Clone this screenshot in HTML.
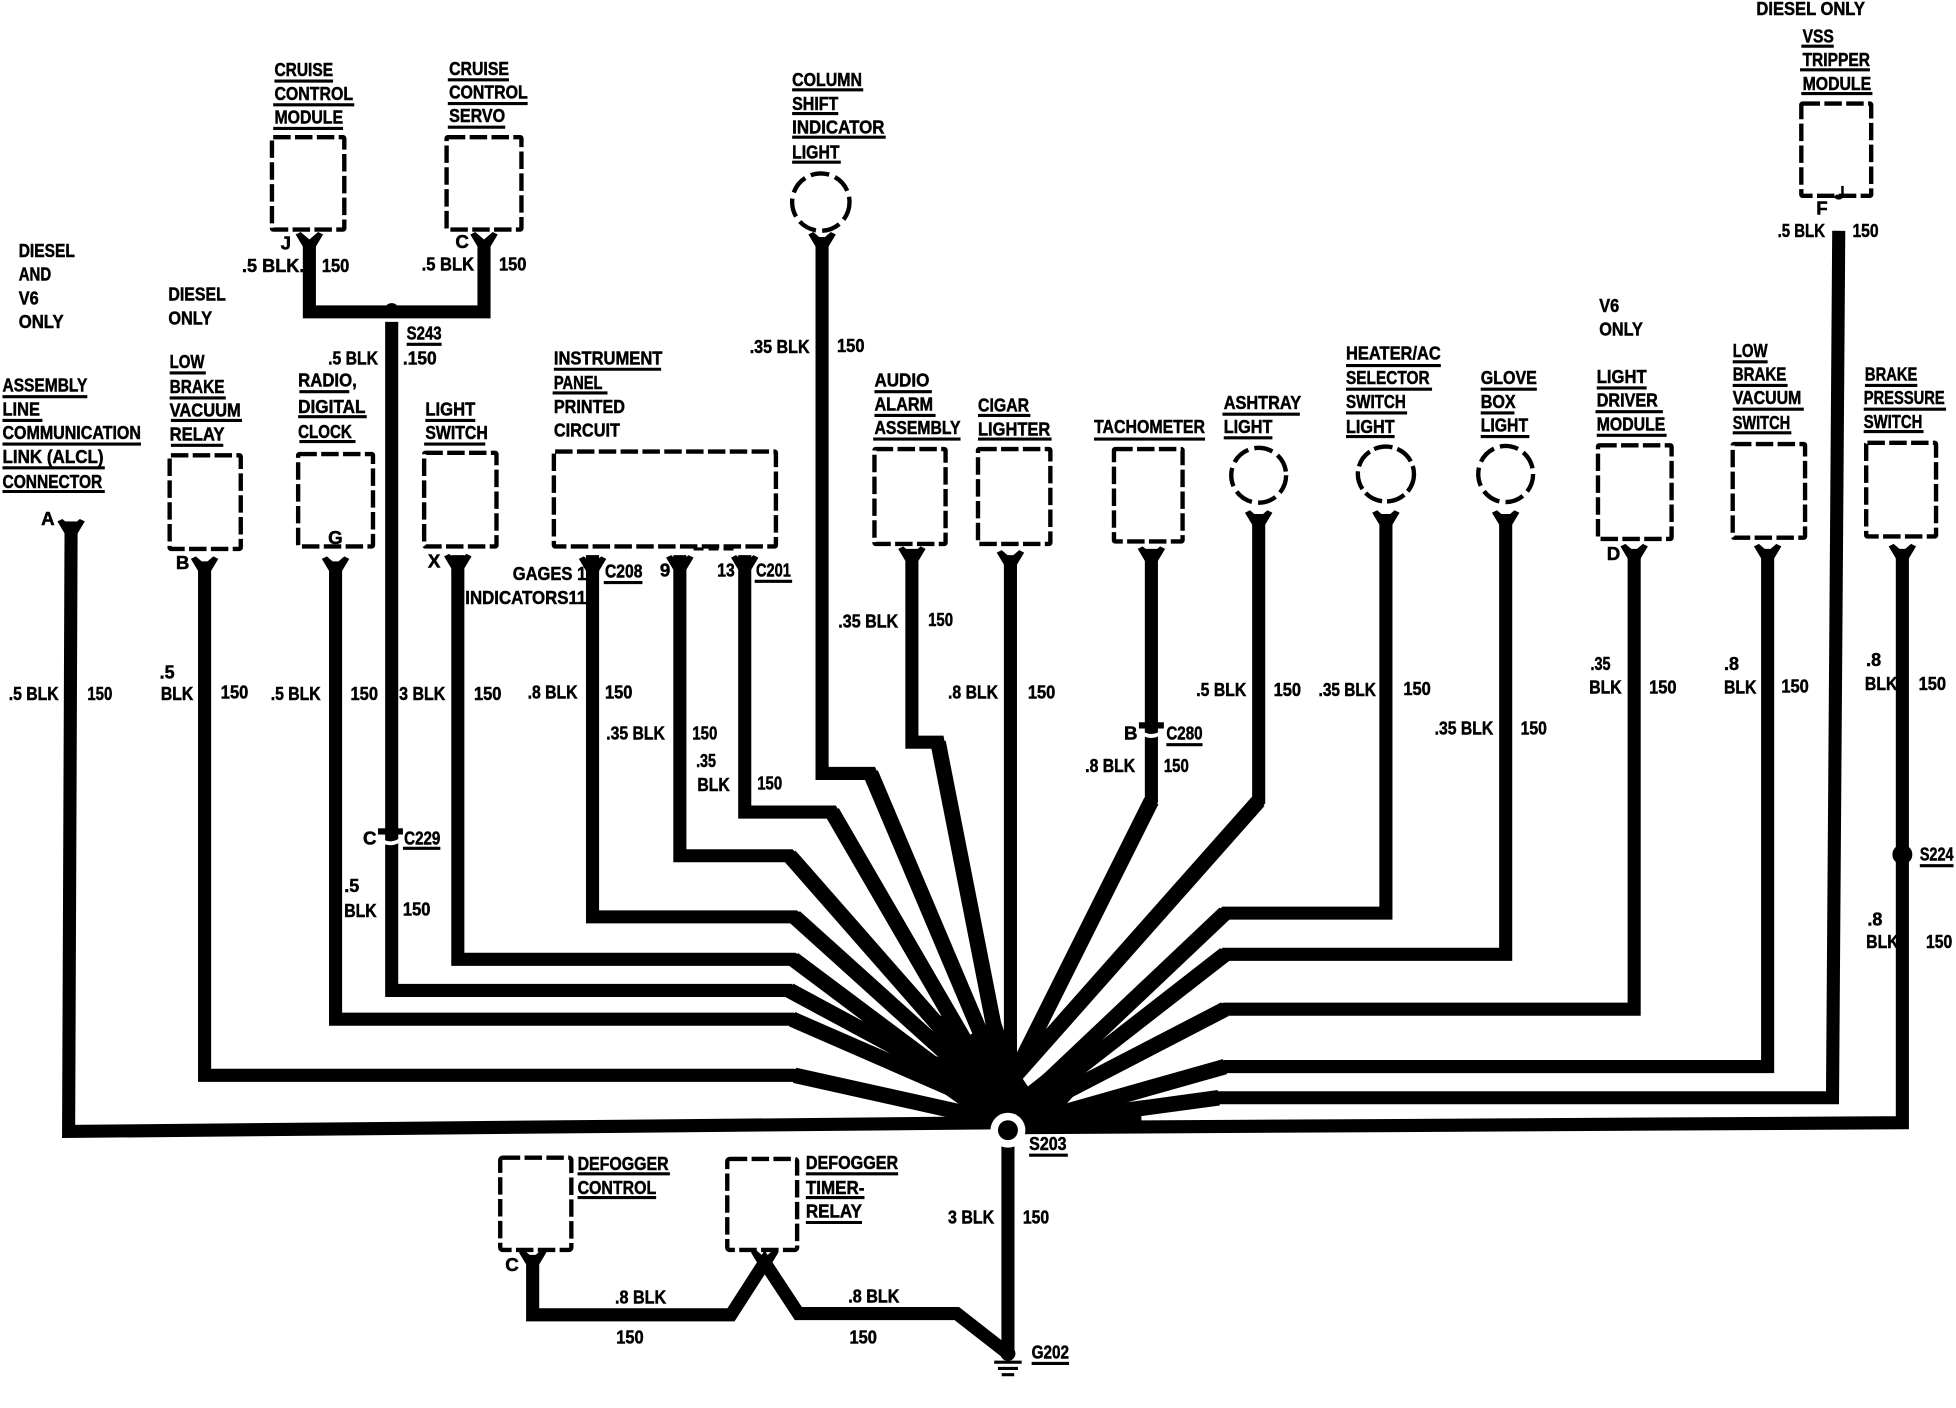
<!DOCTYPE html>
<html><head><meta charset="utf-8"><style>
html,body{margin:0;padding:0;background:#fff}
svg{display:block}
text{font-family:"Liberation Sans",sans-serif;font-weight:bold;font-size:15px;fill:#000;stroke:#000;stroke-width:.4}
.w{fill:none;stroke:#000;stroke-width:10.5;stroke-linejoin:miter}
.d{fill:none;stroke:#000;stroke-width:12.5;stroke-linecap:butt}
.b{fill:none;stroke:#000;stroke-width:3.5;stroke-dasharray:14 3.5}
.u{fill:none;stroke:#000;stroke-width:2.5}
</style></head><body>
<svg width="1956" height="1408" viewBox="0 0 1568 1128.7" xmlns="http://www.w3.org/2000/svg">
<defs><path id="y" d="M-11 0L-7 -2L0 4L7 -2L11 0L5 10L-5 10Z"/></defs>
<rect width="1568" height="1129" fill="#fff"/>

<!-- text that lies beneath wires -->
<text x="373" y="484" textLength="97" lengthAdjust="spacingAndGlyphs">INDICATORS11</text>
<text x="411" y="465" textLength="59" lengthAdjust="spacingAndGlyphs">GAGES 1</text>

<!-- boxes -->
<g class="b">
<rect x="218" y="110" width="58" height="74" rx="1"/>
<rect x="358" y="110" width="60" height="74" rx="1"/>
<rect x="136" y="365" width="57" height="75" rx="1"/>
<rect x="239" y="364" width="60" height="74" rx="1"/>
<rect x="340" y="363" width="58" height="75" rx="1"/>
<rect x="444" y="362" width="178" height="76" rx="1"/>
<rect x="701" y="360" width="57" height="76" rx="1"/>
<rect x="784" y="360" width="58" height="76" rx="1"/>
<rect x="893" y="360" width="55" height="74" rx="1"/>
<rect x="1281" y="357" width="59" height="75" rx="1"/>
<rect x="1389" y="356" width="58" height="75" rx="1"/>
<rect x="1496" y="355" width="56" height="75" rx="1"/>
<rect x="1444" y="83" width="56" height="74" rx="1"/>
<rect x="401" y="928" width="57" height="74" rx="2"/>
<rect x="583" y="929" width="56" height="73" rx="2"/>
<ellipse cx="658" cy="162" rx="23" ry="23" stroke-dasharray="15 5"/>
<ellipse cx="1009" cy="381" rx="22" ry="22" stroke-dasharray="15 5"/>
<ellipse cx="1111" cy="380" rx="22.5" ry="22" stroke-dasharray="15 4"/>
<ellipse cx="1207" cy="380" rx="22" ry="22.5" stroke-dasharray="15 5"/>
</g>

<!-- fan centre -->
<path d="M764 897L770 886L715 847L713 832L754 848L747 824L754 814L777 830L790 822L802 818L816 859L824 871L867 837L861 860L874 864L852 888L899 886L915 895L915 905L764 905Z"/>

<!-- wires -->
<g class="w">
<path d="M57 418L55 907L808 900"/>
<path d="M164 450V862H637L808 900"/>
<path d="M269 450V817H635L800 889"/>
<path d="M314 258V794H633L800 884"/>
<path d="M367 445V769H636L795 888"/>
<path d="M475 445V735H637L800 882"/>
<path d="M545 445V686H633L790 865"/>
<path d="M597 445V651H667L800 880"/>
<path d="M659 190V620H698L808 880"/>
<path d="M731 440V595H752L809 885"/>
<path d="M810 445V890"/>
<path d="M923 440V642L804 880"/>
<path d="M1009 412V642L807 870"/>
<path d="M1111 412V732H982L815 890"/>
<path d="M1207 412V765H982L815 895"/>
<path d="M1310 440V809H982L820 893"/>
<path d="M1417 440V855H982L830 898"/>
<path d="M1474 185L1469 880H977L830 900"/>
<path d="M1525 440V900L808 904"/>
<path d="M248 195V250H388V195"/>
<path d="M427 1006V1054H586L613 1012L640 1053H767L808 1085"/>
<path d="M808 918V1085"/>
</g>
<!-- heavier diagonal legs approaching the fan -->
<g class="d">
<path d="M637 862L808 900"/>
<path d="M635 817L800 889"/>
<path d="M633 794L800 884"/>
<path d="M636 769L795 888"/>
<path d="M637 735L800 882"/>
<path d="M633 686L790 865"/>
<path d="M667 651L800 880"/>
<path d="M698 620L808 880"/>
<path d="M752 595L809 885"/>
<path d="M923 642L804 880"/>
<path d="M1009 642L807 870"/>
<path d="M982 732L815 890"/>
<path d="M982 765L815 895"/>
<path d="M982 809L820 893"/>
<path d="M982 855L830 898"/>
<path d="M977 880L830 900"/>
</g>

<!-- connector caps -->
<use href="#y" x="57" y="418"/><use href="#y" x="164" y="448"/><use href="#y" x="269" y="448"/>
<use href="#y" x="367" y="446"/><use href="#y" x="475" y="448"/><use href="#y" x="545" y="447"/>
<use href="#y" x="597" y="447"/><use href="#y" x="248" y="188"/><use href="#y" x="388" y="188"/>
<use href="#y" x="659" y="188"/><use href="#y" x="731" y="440"/><use href="#y" x="810" y="443"/>
<use href="#y" x="923" y="440"/><use href="#y" x="1009" y="411"/><use href="#y" x="1111" y="411"/>
<use href="#y" x="1207" y="411"/><use href="#y" x="1310" y="438"/><use href="#y" x="1417" y="438"/>
<use href="#y" x="1525" y="438"/><use href="#y" x="427" y="1004"/><use href="#y" x="613" y="1004"/>
<path d="M1470 158q4 4 8 0v-9h-2v7h-4z"/>
<path d="M556 440h34" class="u" stroke-dasharray="8 4"/>

<!-- junctions -->
<circle cx="314" cy="249" r="6"/>
<ellipse cx="1525" cy="685" rx="8" ry="8"/>
<circle cx="808" cy="906" r="14" fill="#fff"/>
<circle cx="808" cy="906" r="8"/>
<path d="M302 671Q313 681 324 671" fill="none" stroke="#fff" stroke-width="3"/>
<path d="M912 585Q923 595 934 585" fill="none" stroke="#fff" stroke-width="3"/>
<rect x="303" y="664" width="20" height="5"/>
<rect x="913" y="579" width="20" height="5"/>

<!-- ground -->
<circle cx="808" cy="1085" r="6"/>
<path d="M797 1092h22M800 1097h16M803 1102h10" stroke="#000" stroke-width="2.5"/>

<!-- underlines -->
<path class="u" d="M220 65H267M219 84H284M219 103H275M359 64H408M359 83H423M359 102H405M635 72H692M635 91H672M635 110H710M635 130H674M1444 37H1470M1443 56H1499M1444 75H1501M2 318H70M2 337H34M2 356H113M2 375H84M2 394H84M136 299H165M136 319H181M137 337H194M137 357H179M240 314H280M239 334H294M240 354H285M341 337H381M340 356H389M444 296H530M443 315H487M701 314H747M701 333H750M700 352H770M784 333H826M784 352H843M877 352H966M980 332H1042M981 351H1020M1079 293H1155M1079 312H1148M1079 331H1128M1079 350H1118M1187 312H1232M1187 331H1214M1187 350H1226M1280 311H1320M1279 330H1333M1280 349H1336M1389 290H1417M1389 309H1433M1389 328H1446M1389 347H1436M1495 309H1537M1494 328H1560M1494 346H1542M326 276H354M484 467H515M605 466H635M935 597H964M1539 694H1566M323 680H353M825 926H856M463 941H537M463 960H526M646 941H720M646 960H693M646 980H691M827 1093H857"/>

<!-- labels -->
<g>
<text x="220" y="61" textLength="47" lengthAdjust="spacingAndGlyphs">CRUISE</text>
<text x="220" y="80" textLength="63" lengthAdjust="spacingAndGlyphs">CONTROL</text>
<text x="220" y="99" textLength="55" lengthAdjust="spacingAndGlyphs">MODULE</text>
<text x="360" y="60" textLength="48" lengthAdjust="spacingAndGlyphs">CRUISE</text>
<text x="360" y="79" textLength="63" lengthAdjust="spacingAndGlyphs">CONTROL</text>
<text x="360" y="98" textLength="45" lengthAdjust="spacingAndGlyphs">SERVO</text>
<text x="635" y="69" textLength="56" lengthAdjust="spacingAndGlyphs">COLUMN</text>
<text x="635" y="88" textLength="37" lengthAdjust="spacingAndGlyphs">SHIFT</text>
<text x="635" y="107" textLength="74" lengthAdjust="spacingAndGlyphs">INDICATOR</text>
<text x="635" y="127" textLength="38" lengthAdjust="spacingAndGlyphs">LIGHT</text>
<text x="1408" y="12" textLength="87" lengthAdjust="spacingAndGlyphs">DIESEL ONLY</text>
<text x="1445" y="34" textLength="25" lengthAdjust="spacingAndGlyphs">VSS</text>
<text x="1445" y="53" textLength="54" lengthAdjust="spacingAndGlyphs">TRIPPER</text>
<text x="1445" y="72" textLength="55" lengthAdjust="spacingAndGlyphs">MODULE</text>
<text x="15" y="206" textLength="45" lengthAdjust="spacingAndGlyphs">DIESEL</text>
<text x="15" y="225" textLength="26" lengthAdjust="spacingAndGlyphs">AND</text>
<text x="15" y="244" textLength="16" lengthAdjust="spacingAndGlyphs">V6</text>
<text x="15" y="263" textLength="36" lengthAdjust="spacingAndGlyphs">ONLY</text>
<text x="135" y="241" textLength="46" lengthAdjust="spacingAndGlyphs">DIESEL</text>
<text x="135" y="260" textLength="35" lengthAdjust="spacingAndGlyphs">ONLY</text>
<text x="2" y="314" textLength="68" lengthAdjust="spacingAndGlyphs">ASSEMBLY</text>
<text x="2" y="333" textLength="30" lengthAdjust="spacingAndGlyphs">LINE</text>
<text x="2" y="352" textLength="111" lengthAdjust="spacingAndGlyphs">COMMUNICATION</text>
<text x="2" y="371" textLength="81" lengthAdjust="spacingAndGlyphs">LINK (ALCL)</text>
<text x="2" y="391" textLength="80" lengthAdjust="spacingAndGlyphs">CONNECTOR</text>
<text x="136" y="295" textLength="28" lengthAdjust="spacingAndGlyphs">LOW</text>
<text x="136" y="315" textLength="44" lengthAdjust="spacingAndGlyphs">BRAKE</text>
<text x="136" y="334" textLength="57" lengthAdjust="spacingAndGlyphs">VACUUM</text>
<text x="136" y="353" textLength="44" lengthAdjust="spacingAndGlyphs">RELAY</text>
<text x="239" y="310" textLength="47" lengthAdjust="spacingAndGlyphs">RADIO,</text>
<text x="239" y="331" textLength="54" lengthAdjust="spacingAndGlyphs">DIGITAL</text>
<text x="239" y="351" textLength="43" lengthAdjust="spacingAndGlyphs">CLOCK</text>
<text x="341" y="333" textLength="40" lengthAdjust="spacingAndGlyphs">LIGHT</text>
<text x="341" y="352" textLength="50" lengthAdjust="spacingAndGlyphs">SWITCH</text>
<text x="444" y="292" textLength="87" lengthAdjust="spacingAndGlyphs">INSTRUMENT</text>
<text x="444" y="312" textLength="39" lengthAdjust="spacingAndGlyphs">PANEL</text>
<text x="444" y="331" textLength="57" lengthAdjust="spacingAndGlyphs">PRINTED</text>
<text x="444" y="350" textLength="53" lengthAdjust="spacingAndGlyphs">CIRCUIT</text>
<text x="701" y="310" textLength="44" lengthAdjust="spacingAndGlyphs">AUDIO</text>
<text x="701" y="329" textLength="47" lengthAdjust="spacingAndGlyphs">ALARM</text>
<text x="701" y="348" textLength="69" lengthAdjust="spacingAndGlyphs">ASSEMBLY</text>
<text x="784" y="330" textLength="41" lengthAdjust="spacingAndGlyphs">CIGAR</text>
<text x="784" y="349" textLength="58" lengthAdjust="spacingAndGlyphs">LIGHTER</text>
<text x="877" y="347" textLength="89" lengthAdjust="spacingAndGlyphs">TACHOMETER</text>
<text x="981" y="328" textLength="62" lengthAdjust="spacingAndGlyphs">ASHTRAY</text>
<text x="981" y="347" textLength="39" lengthAdjust="spacingAndGlyphs">LIGHT</text>
<text x="1079" y="288" textLength="76" lengthAdjust="spacingAndGlyphs">HEATER/AC</text>
<text x="1079" y="308" textLength="67" lengthAdjust="spacingAndGlyphs">SELECTOR</text>
<text x="1079" y="327" textLength="48" lengthAdjust="spacingAndGlyphs">SWITCH</text>
<text x="1079" y="347" textLength="39" lengthAdjust="spacingAndGlyphs">LIGHT</text>
<text x="1187" y="308" textLength="45" lengthAdjust="spacingAndGlyphs">GLOVE</text>
<text x="1187" y="327" textLength="28" lengthAdjust="spacingAndGlyphs">BOX</text>
<text x="1187" y="346" textLength="38" lengthAdjust="spacingAndGlyphs">LIGHT</text>
<text x="1282" y="250" textLength="16" lengthAdjust="spacingAndGlyphs">V6</text>
<text x="1282" y="269" textLength="35" lengthAdjust="spacingAndGlyphs">ONLY</text>
<text x="1280" y="307" textLength="40" lengthAdjust="spacingAndGlyphs">LIGHT</text>
<text x="1280" y="326" textLength="49" lengthAdjust="spacingAndGlyphs">DRIVER</text>
<text x="1280" y="345" textLength="55" lengthAdjust="spacingAndGlyphs">MODULE</text>
<text x="1389" y="286" textLength="28" lengthAdjust="spacingAndGlyphs">LOW</text>
<text x="1389" y="305" textLength="43" lengthAdjust="spacingAndGlyphs">BRAKE</text>
<text x="1389" y="324" textLength="55" lengthAdjust="spacingAndGlyphs">VACUUM</text>
<text x="1389" y="344" textLength="46" lengthAdjust="spacingAndGlyphs">SWITCH</text>
<text x="1495" y="305" textLength="42" lengthAdjust="spacingAndGlyphs">BRAKE</text>
<text x="1494" y="324" textLength="65" lengthAdjust="spacingAndGlyphs">PRESSURE</text>
<text x="1494" y="343" textLength="47" lengthAdjust="spacingAndGlyphs">SWITCH</text>

<text x="225" y="200">J</text><text x="365" y="199">C</text>
<text x="194" y="218" textLength="50" lengthAdjust="spacingAndGlyphs">.5 BLK.</text>
<text x="258" y="218" textLength="22" lengthAdjust="spacingAndGlyphs">150</text>
<text x="338" y="217" textLength="42" lengthAdjust="spacingAndGlyphs">.5 BLK</text>
<text x="400" y="217" textLength="22" lengthAdjust="spacingAndGlyphs">150</text>
<text x="326" y="272" textLength="28" lengthAdjust="spacingAndGlyphs">S243</text>
<text x="263" y="292" textLength="40" lengthAdjust="spacingAndGlyphs">.5 BLK</text>
<text x="323" y="292" textLength="27" lengthAdjust="spacingAndGlyphs">.150</text>
<text x="601" y="283" textLength="48" lengthAdjust="spacingAndGlyphs">.35 BLK</text>
<text x="671" y="282" textLength="22" lengthAdjust="spacingAndGlyphs">150</text>
<text x="33" y="421">A</text><text x="141" y="456">B</text><text x="263" y="436">G</text><text x="343" y="455">X</text>
<text x="485" y="463" textLength="30" lengthAdjust="spacingAndGlyphs">C208</text>
<text x="529" y="462">9</text>
<text x="575" y="462" textLength="14" lengthAdjust="spacingAndGlyphs">13</text>
<text x="606" y="462" textLength="28" lengthAdjust="spacingAndGlyphs">C201</text>
<text x="672" y="503" textLength="48" lengthAdjust="spacingAndGlyphs">.35 BLK</text>
<text x="744" y="502" textLength="20" lengthAdjust="spacingAndGlyphs">150</text>
<text x="7" y="561" textLength="40" lengthAdjust="spacingAndGlyphs">.5 BLK</text>
<text x="70" y="561" textLength="20" lengthAdjust="spacingAndGlyphs">150</text>
<text x="128" y="544" textLength="12" lengthAdjust="spacingAndGlyphs">.5</text>
<text x="129" y="561" textLength="26" lengthAdjust="spacingAndGlyphs">BLK</text>
<text x="177" y="560" textLength="22" lengthAdjust="spacingAndGlyphs">150</text>
<text x="217" y="561" textLength="40" lengthAdjust="spacingAndGlyphs">.5 BLK</text>
<text x="281" y="561" textLength="22" lengthAdjust="spacingAndGlyphs">150</text>
<text x="320" y="561" textLength="37" lengthAdjust="spacingAndGlyphs">3 BLK</text>
<text x="380" y="561" textLength="22" lengthAdjust="spacingAndGlyphs">150</text>
<text x="423" y="560" textLength="40" lengthAdjust="spacingAndGlyphs">.8 BLK</text>
<text x="485" y="560" textLength="22" lengthAdjust="spacingAndGlyphs">150</text>
<text x="486" y="593" textLength="47" lengthAdjust="spacingAndGlyphs">.35 BLK</text>
<text x="555" y="593" textLength="20" lengthAdjust="spacingAndGlyphs">150</text>
<text x="558" y="615" textLength="16" lengthAdjust="spacingAndGlyphs">.35</text>
<text x="559" y="634" textLength="26" lengthAdjust="spacingAndGlyphs">BLK</text>
<text x="607" y="633" textLength="20" lengthAdjust="spacingAndGlyphs">150</text>
<text x="760" y="560" textLength="40" lengthAdjust="spacingAndGlyphs">.8 BLK</text>
<text x="824" y="560" textLength="22" lengthAdjust="spacingAndGlyphs">150</text>
<text x="901" y="593">B</text>
<text x="935" y="593" textLength="29" lengthAdjust="spacingAndGlyphs">C280</text>
<text x="870" y="619" textLength="40" lengthAdjust="spacingAndGlyphs">.8 BLK</text>
<text x="933" y="619" textLength="20" lengthAdjust="spacingAndGlyphs">150</text>
<text x="959" y="558" textLength="40" lengthAdjust="spacingAndGlyphs">.5 BLK</text>
<text x="1021" y="558" textLength="22" lengthAdjust="spacingAndGlyphs">150</text>
<text x="1057" y="558" textLength="46" lengthAdjust="spacingAndGlyphs">.35 BLK</text>
<text x="1125" y="557" textLength="22" lengthAdjust="spacingAndGlyphs">150</text>
<text x="1150" y="589" textLength="47" lengthAdjust="spacingAndGlyphs">.35 BLK</text>
<text x="1219" y="589" textLength="21" lengthAdjust="spacingAndGlyphs">150</text>
<text x="1275" y="537" textLength="16" lengthAdjust="spacingAndGlyphs">.35</text>
<text x="1274" y="556" textLength="26" lengthAdjust="spacingAndGlyphs">BLK</text>
<text x="1322" y="556" textLength="22" lengthAdjust="spacingAndGlyphs">150</text>
<text x="1382" y="537" textLength="12" lengthAdjust="spacingAndGlyphs">.8</text>
<text x="1382" y="556" textLength="26" lengthAdjust="spacingAndGlyphs">BLK</text>
<text x="1428" y="555" textLength="22" lengthAdjust="spacingAndGlyphs">150</text>
<text x="1496" y="534" textLength="12" lengthAdjust="spacingAndGlyphs">.8</text>
<text x="1495" y="553" textLength="26" lengthAdjust="spacingAndGlyphs">BLK</text>
<text x="1538" y="553" textLength="22" lengthAdjust="spacingAndGlyphs">150</text>
<text x="1539" y="690" textLength="27" lengthAdjust="spacingAndGlyphs">S224</text>
<text x="1497" y="742" textLength="12" lengthAdjust="spacingAndGlyphs">.8</text>
<text x="1496" y="760" textLength="26" lengthAdjust="spacingAndGlyphs">BLK</text>
<text x="1544" y="760" textLength="21" lengthAdjust="spacingAndGlyphs">150</text>
<text x="291" y="677">C</text>
<text x="324" y="677" textLength="29" lengthAdjust="spacingAndGlyphs">C229</text>
<text x="276" y="715" textLength="12" lengthAdjust="spacingAndGlyphs">.5</text>
<text x="276" y="735" textLength="26" lengthAdjust="spacingAndGlyphs">BLK</text>
<text x="323" y="734" textLength="22" lengthAdjust="spacingAndGlyphs">150</text>
<text x="1456" y="172">F</text>
<text x="1425" y="190" textLength="38" lengthAdjust="spacingAndGlyphs">.5 BLK</text>
<text x="1485" y="190" textLength="21" lengthAdjust="spacingAndGlyphs">150</text>
<text x="1288" y="449">D</text>
<text x="825" y="922" textLength="30" lengthAdjust="spacingAndGlyphs">S203</text>
<text x="760" y="981" textLength="37" lengthAdjust="spacingAndGlyphs">3 BLK</text>
<text x="820" y="981" textLength="21" lengthAdjust="spacingAndGlyphs">150</text>
<text x="463" y="938" textLength="73" lengthAdjust="spacingAndGlyphs">DEFOGGER</text>
<text x="463" y="957" textLength="63" lengthAdjust="spacingAndGlyphs">CONTROL</text>
<text x="646" y="937" textLength="74" lengthAdjust="spacingAndGlyphs">DEFOGGER</text>
<text x="646" y="957" textLength="47" lengthAdjust="spacingAndGlyphs">TIMER-</text>
<text x="646" y="976" textLength="45" lengthAdjust="spacingAndGlyphs">RELAY</text>
<text x="405" y="1019">C</text>
<text x="493" y="1045" textLength="41" lengthAdjust="spacingAndGlyphs">.8 BLK</text>
<text x="494" y="1077" textLength="22" lengthAdjust="spacingAndGlyphs">150</text>
<text x="680" y="1044" textLength="41" lengthAdjust="spacingAndGlyphs">.8 BLK</text>
<text x="681" y="1077" textLength="22" lengthAdjust="spacingAndGlyphs">150</text>
<text x="827" y="1089" textLength="30" lengthAdjust="spacingAndGlyphs">G202</text>
</g>
</svg>
</body></html>
